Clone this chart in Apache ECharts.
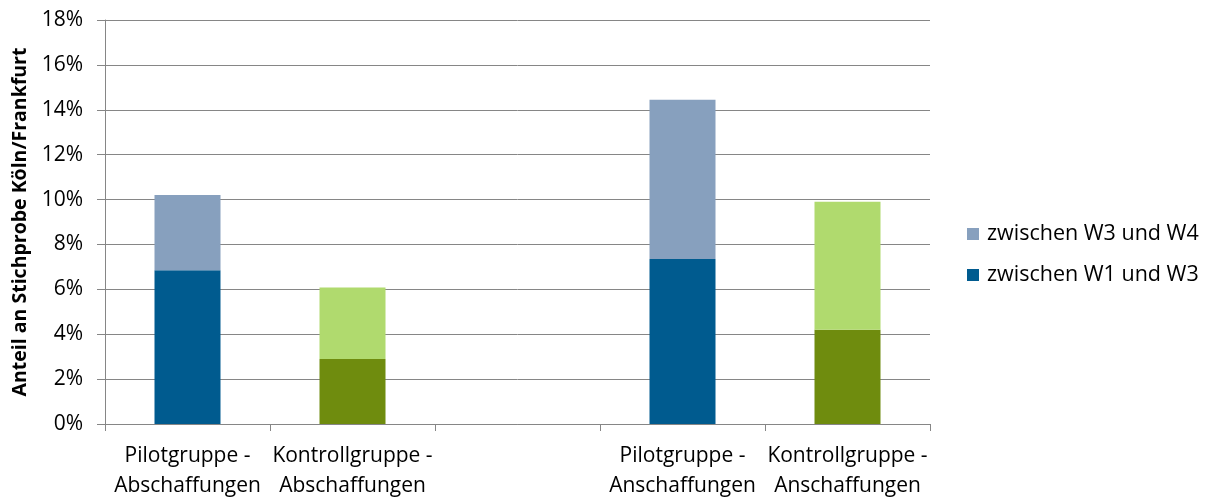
<!DOCTYPE html>
<html><head><meta charset="utf-8">
<script src="https://cdn.jsdelivr.net/npm/echarts@6/dist/echarts.min.js"></script>
<style>html,body{margin:0;padding:0;background:#fff}#c{width:1211px;height:497px}</style>
</head><body><div id="c"></div>
<script>
const categories = ['Pilotgruppe -\nAbschaffungen', 'Kontrollgruppe -\nAbschaffungen', '', 'Pilotgruppe -\nAnschaffungen', 'Kontrollgruppe -\nAnschaffungen'];
const w1w3 = [6.85, 2.9, '-', 7.35, 4.2];
const w3w4 = [3.35, 3.18, '-', 7.1, 5.7];
const seriesNames = ['zwischen W1 und W3', 'zwischen W3 und W4'];
const pilotDark = '#005b8f', pilotLight = '#87a0be';
const ctrlDark = '#6f8c0e', ctrlLight = '#b0da6e';
const isControl = [false, true, false, false, true];

const font = '"Open Sans", sans-serif';
function colored(arr, dark) {
  return arr.map((v, i) => ({ value: v, itemStyle: { color: isControl[i] ? (dark ? ctrlDark : ctrlLight) : (dark ? pilotDark : pilotLight) } }));
}
const chart = echarts.init(document.getElementById('c'));
chart.setOption({
  animation: false,
  textStyle: { fontFamily: font },
  grid: { left: 105, right: 281, top: 20, bottom: 73, containLabel: false, outerBoundsMode: 'none' },
  legend: {
    orient: 'vertical', left: 962, top: 218,
    data: [seriesNames[1], seriesNames[0]],
    itemWidth: 12, itemHeight: 12, itemGap: 19,
    icon: 'rect',
    textStyle: { fontSize: 21.5, color: '#000', fontFamily: font, padding: [0, 0, 0, 3] }
  },
  xAxis: {
    type: 'category', data: categories,
    axisLine: { lineStyle: { color: '#868686', width: 1 } },
    axisTick: { show: true, alignWithLabel: false, length: 7, lineStyle: { color: '#868686' } },
    axisLabel: { color: '#000', fontSize: 21, lineHeight: 30, margin: 17, interval: 0, fontFamily: font }
  },
  yAxis: {
    type: 'value', min: 0, max: 18, interval: 2,
    name: 'Anteil an Stichprobe Köln/Frankfurt', nameLocation: 'middle', nameGap: 74, nameRotate: 90,
    nameTextStyle: { fontSize: 19.5, fontWeight: 'bold', color: '#000', fontFamily: font },
    axisLine: { show: true, lineStyle: { color: '#868686' } },
    axisTick: { show: true, length: 8, lineStyle: { color: '#868686' } },
    axisLabel: { formatter: '{value}%', color: '#000', fontSize: 21, margin: 22, fontFamily: font },
    splitLine: { lineStyle: { color: '#868686', width: 1 } }
  },
  series: [
    { name: seriesNames[0], type: 'bar', stack: 'a', barWidth: '40%', itemStyle: { color: pilotDark }, data: colored(w1w3, true) },
    { name: seriesNames[1], type: 'bar', stack: 'a', barWidth: '40%', itemStyle: { color: pilotLight }, data: colored(w3w4, false) }
  ]
});
</script></body></html>
